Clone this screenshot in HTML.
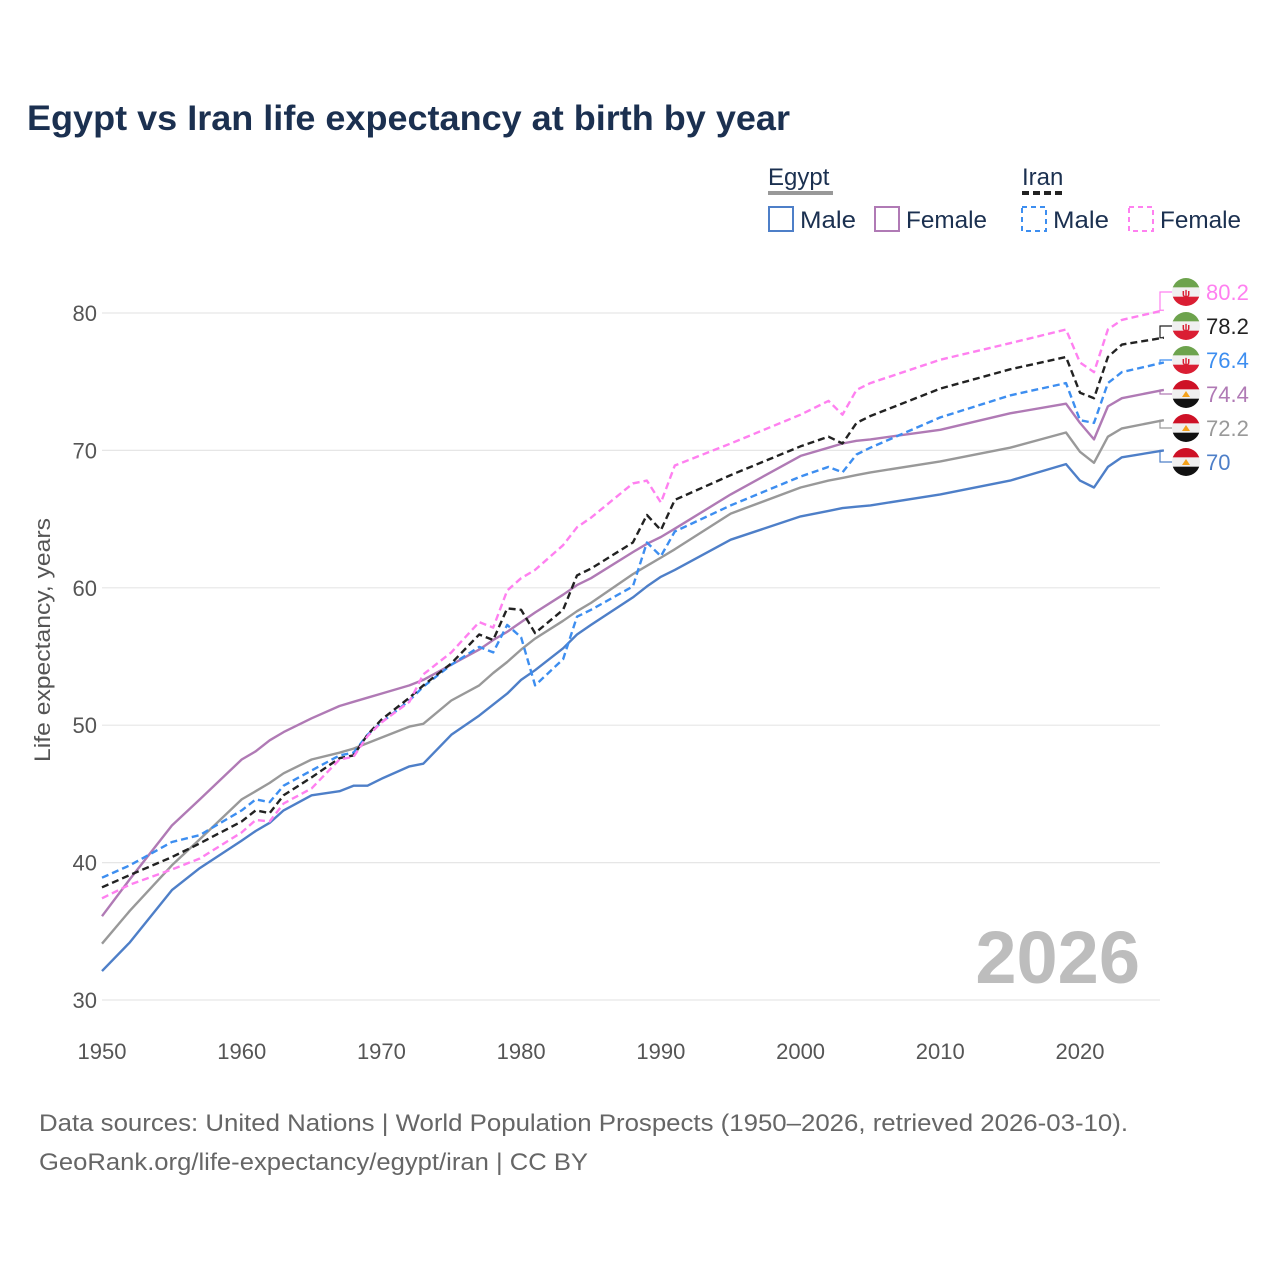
<!DOCTYPE html>
<html><head><meta charset="utf-8">
<style>
html,body{margin:0;padding:0;background:#fff;}
svg{display:block;font-family:"Liberation Sans",sans-serif;}
</style></head>
<body>
<svg id="chart" width="1280" height="1280" viewBox="0 0 1280 1280">
<text x="27" y="130" font-size="35" font-weight="bold" fill="#1b3050" textLength="763" lengthAdjust="spacingAndGlyphs">Egypt vs Iran life expectancy at birth by year</text>
<g>
<text x="768" y="185" font-size="24" fill="#1b3050">Egypt</text>
<line x1="768" y1="193" x2="833" y2="193" stroke="#999" stroke-width="4"/>
<text x="1022" y="185" font-size="24" fill="#1b3050">Iran</text>
<line x1="1022" y1="193" x2="1066" y2="193" stroke="#222" stroke-width="4" stroke-dasharray="7,4"/>
<g><rect x="769" y="207" width="24" height="24" fill="none" stroke="#4e7fc8" stroke-width="2"/><text x="800" y="228" font-size="24" fill="#1b3050" textLength="56" lengthAdjust="spacingAndGlyphs">Male</text></g>
<g><rect x="875" y="207" width="24" height="24" fill="none" stroke="#b07ab5" stroke-width="2"/><text x="906" y="228" font-size="24" fill="#1b3050" textLength="81" lengthAdjust="spacingAndGlyphs">Female</text></g>
<g><rect x="1022" y="207" width="24" height="24" fill="none" stroke="#3d8ef0" stroke-width="2" stroke-dasharray="5,4"/><text x="1053" y="228" font-size="24" fill="#1b3050" textLength="56" lengthAdjust="spacingAndGlyphs">Male</text></g>
<g><rect x="1129" y="207" width="24" height="24" fill="none" stroke="#ff80f0" stroke-width="2" stroke-dasharray="5,4"/><text x="1160" y="228" font-size="24" fill="#1b3050" textLength="81" lengthAdjust="spacingAndGlyphs">Female</text></g>
</g>
<g id="grid"></g>
<g id="series"></g>
<g id="labels"></g>
<text x="50" y="640" font-size="22" fill="#555" text-anchor="middle" textLength="244" lengthAdjust="spacingAndGlyphs" transform="rotate(-90 50 640)">Life expectancy, years</text>
<text x="1140" y="983" font-size="74" font-weight="bold" fill="#bdbdbd" text-anchor="end">2026</text>
<text x="39" y="1131" font-size="24" fill="#666" textLength="1089" lengthAdjust="spacingAndGlyphs">Data sources: United Nations | World Population Prospects (1950–2026, retrieved 2026-03-10).</text>
<text x="39" y="1170" font-size="24" fill="#666" textLength="549" lengthAdjust="spacingAndGlyphs">GeoRank.org/life-expectancy/egypt/iran | CC BY</text>
</svg>
<script>
const years=[1950,1952,1955,1957,1960,1961,1962,1963,1965,1967,1968,1969,1970,1972,1973,1975,1977,1978,1979,1980,1981,1983,1984,1985,1988,1989,1990,1991,1995,2000,2002,2003,2004,2005,2010,2015,2019,2020,2021,2022,2023,2026];
const egyptMale=[32.1,34.2,38.0,39.6,41.6,42.3,42.9,43.8,44.9,45.2,45.6,45.6,46.1,47.0,47.2,49.3,50.7,51.5,52.3,53.3,54.0,55.6,56.6,57.3,59.3,60.1,60.8,61.3,63.5,65.2,65.6,65.8,65.9,66.0,66.8,67.8,69.0,67.8,67.3,68.8,69.5,70.0];
const egyptFemale=[36.1,38.8,42.7,44.6,47.5,48.1,48.9,49.5,50.5,51.4,51.7,52.0,52.3,52.9,53.3,54.4,55.5,56.2,56.8,57.5,58.2,59.5,60.2,60.7,62.6,63.2,63.7,64.3,66.8,69.6,70.2,70.5,70.7,70.8,71.5,72.7,73.4,72.0,70.8,73.2,73.8,74.4];
const egyptBoth=[34.1,36.5,39.8,41.7,44.6,45.2,45.8,46.5,47.5,48.0,48.3,48.7,49.1,49.9,50.1,51.8,52.9,53.8,54.6,55.5,56.3,57.6,58.3,58.9,61.0,61.6,62.2,62.8,65.4,67.3,67.8,68.0,68.2,68.4,69.2,70.2,71.3,69.9,69.1,71.0,71.6,72.2];
const iranMale=[38.9,39.8,41.5,42.0,43.8,44.6,44.4,45.6,46.7,47.8,48.0,49.3,50.2,51.8,52.8,54.4,55.7,55.3,57.3,56.4,52.9,54.8,57.9,58.4,60.1,63.3,62.3,64.1,66.0,68.1,68.8,68.4,69.7,70.2,72.4,74.0,74.9,72.2,72.0,74.9,75.7,76.4];
const iranBoth=[38.2,39.1,40.4,41.4,43.0,43.8,43.6,44.9,46.2,47.6,47.8,49.3,50.4,52.0,52.9,54.5,56.6,56.2,58.5,58.4,56.7,58.4,60.9,61.4,63.3,65.3,64.2,66.4,68.2,70.3,71.0,70.5,72.0,72.5,74.5,75.9,76.8,74.2,73.8,76.8,77.7,78.2];
const iranFemale=[37.4,38.4,39.5,40.3,42.2,43.1,43.0,44.3,45.4,47.5,47.7,49.2,50.2,51.7,53.7,55.3,57.5,57.1,59.8,60.7,61.3,63.1,64.4,65.1,67.6,67.8,66.2,68.9,70.5,72.6,73.6,72.6,74.4,74.9,76.6,77.8,78.8,76.4,75.7,78.8,79.5,80.2];
const yTicks=[30,40,50,60,70,80];
const xTicks=[1950,1960,1970,1980,1990,2000,2010,2020];

const NS="http://www.w3.org/2000/svg";
const X0=102,Y0=1000,Y1=313;
function xs(yr){return X0+(yr-1950)*(1080-102)/70;}
function ys(v){return Y0-(v-30)*(Y0-Y1)/50;}
function mk(tag,attrs,parent){const e=document.createElementNS(NS,tag);for(const k in attrs)e.setAttribute(k,attrs[k]);parent.appendChild(e);return e;}
const grid=document.getElementById('grid');
yTicks.forEach(t=>{
  const l=mk('line',{x1:X0,x2:1160,y1:ys(t),y2:ys(t),stroke:'#e6e6e6','stroke-width':1.2},grid);
  
  
  const tx=mk('text',{x:97,y:ys(t)+8,'font-size':22,fill:'#555','text-anchor':'end'},grid);
  tx.textContent=t;
  
  
});
xTicks.forEach(t=>{
  const tx=mk('text',{x:xs(t),y:1059,'font-size':22,fill:'#555','text-anchor':'middle'},grid);
  tx.textContent=t;
  
  
});
const series=[
 {name:'egypt-male',d:egyptMale,c:'#4e7fc8',dash:null,flag:'egypt'},
 {name:'egypt-both',d:egyptBoth,c:'#999999',dash:null,flag:'egypt'},
 {name:'egypt-female',d:egyptFemale,c:'#b07ab5',dash:null,flag:'egypt'},
 {name:'iran-male',d:iranMale,c:'#3d8ef0',dash:'7,4',flag:'iran'},
 {name:'iran-both',d:iranBoth,c:'#222222',dash:'7,4',flag:'iran'},
 {name:'iran-female',d:iranFemale,c:'#ff80f0',dash:'7,4',flag:'iran'}
];
const sg=document.getElementById('series');
series.forEach(s=>{
  const pts=years.map((y,i)=>xs(y).toFixed(1)+','+ys(s.d[i]).toFixed(1)).join(' ');
  const a={points:pts,fill:'none',stroke:s.c,'stroke-width':2.4,'stroke-linejoin':'round'};
  if(s.dash)a['stroke-dasharray']=s.dash;
  const p=mk('polyline',a,sg);
  
  
});
const lg=document.getElementById('labels');
const order=series.slice().sort((a,b)=>b.d[b.d.length-1]-a.d[a.d.length-1]);
order.forEach((s,i)=>{
  const v=s.d[s.d.length-1];
  const ly=292+i*34;
  const ey=ys(v);
  const con=mk('polyline',{points:`${xs(2026)},${ey} 1160,${ey} 1160,${ly} 1172,${ly}`,fill:'none',stroke:s.c,'stroke-width':1.2},lg);
  
  
  const g=mk('g',{},lg);
  
  
  const cid='clip'+i;
  const cp=mk('clipPath',{id:cid},g);
  mk('circle',{cx:1186,cy:ly,r:14},cp);
  const cols=s.flag==='iran'?['#6da34d','#f0f0f0','#da1e33']:['#ce1126','#f0f0f0','#111111'];
  cols.forEach((c,k)=>mk('rect',{x:1172,y:ly-14+k*9.34,width:28,height:9.6,fill:c,'clip-path':`url(#${cid})`},g));
  if(s.flag==='iran'){const e=mk('text',{x:1186,y:ly+5,'font-size':11,'text-anchor':'middle',fill:'#da1e33','font-weight':'bold'},g);e.textContent='ψ';}
  else{mk('path',{d:`M1182 ${ly+3} L1190 ${ly+3} L1186 ${ly-3} Z`,fill:'#f4a21b'},g);}
  const t=mk('text',{x:1206,y:ly+8,'font-size':22,fill:s.c},lg);
  t.textContent=(Math.round(v*10)/10).toString();
  
  
});
</script>
</body></html>
